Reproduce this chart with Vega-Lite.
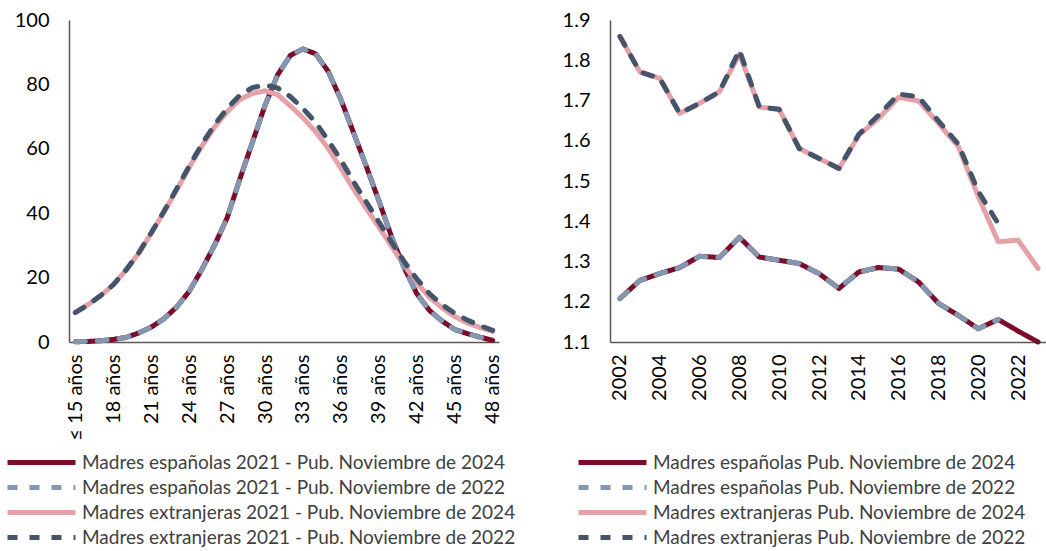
{
  "$schema": "https://vega.github.io/schema/vega-lite/v6.json",
  "padding": {"left": 14, "top": 10, "right": 0, "bottom": 0},
  "bounds": "flush",
  "spacing": 111,
  "config": {
    "font": "Lato",
    "view": {"stroke": null},
    "axis": {"domainColor": "#595959", "domainWidth": 1.5, "ticks": false, "grid": false, "labelColor": "#000000", "labelFontSize": 20, "labelFont": "Lato"},
    "legend": {"symbolType": "M-4.857,0L4.857,0", "symbolSize": 196, "symbolStrokeWidth": 5, "labelFontSize": 19, "labelColor": "#404040", "labelLimit": 600, "labelOffset": 31, "rowPadding": 4, "padding": 0, "labelFont": "Lato"}
  },
  "datasets": {
    "edades": [
      {"edad":15,"serie":"Madres españolas 2021 - Pub. Noviembre de 2024","valor":0.1},
      {"edad":16,"serie":"Madres españolas 2021 - Pub. Noviembre de 2024","valor":0.15},
      {"edad":17,"serie":"Madres españolas 2021 - Pub. Noviembre de 2024","valor":0.4},
      {"edad":18,"serie":"Madres españolas 2021 - Pub. Noviembre de 2024","valor":0.8},
      {"edad":19,"serie":"Madres españolas 2021 - Pub. Noviembre de 2024","valor":1.4},
      {"edad":20,"serie":"Madres españolas 2021 - Pub. Noviembre de 2024","valor":2.8},
      {"edad":21,"serie":"Madres españolas 2021 - Pub. Noviembre de 2024","valor":4.6},
      {"edad":22,"serie":"Madres españolas 2021 - Pub. Noviembre de 2024","valor":7.2},
      {"edad":23,"serie":"Madres españolas 2021 - Pub. Noviembre de 2024","valor":10.8},
      {"edad":24,"serie":"Madres españolas 2021 - Pub. Noviembre de 2024","valor":15.7},
      {"edad":25,"serie":"Madres españolas 2021 - Pub. Noviembre de 2024","valor":22.5},
      {"edad":26,"serie":"Madres españolas 2021 - Pub. Noviembre de 2024","valor":30},
      {"edad":27,"serie":"Madres españolas 2021 - Pub. Noviembre de 2024","valor":38.5},
      {"edad":28,"serie":"Madres españolas 2021 - Pub. Noviembre de 2024","valor":50.5},
      {"edad":29,"serie":"Madres españolas 2021 - Pub. Noviembre de 2024","valor":62},
      {"edad":30,"serie":"Madres españolas 2021 - Pub. Noviembre de 2024","valor":73.5},
      {"edad":31,"serie":"Madres españolas 2021 - Pub. Noviembre de 2024","valor":83},
      {"edad":32,"serie":"Madres españolas 2021 - Pub. Noviembre de 2024","valor":89},
      {"edad":33,"serie":"Madres españolas 2021 - Pub. Noviembre de 2024","valor":91},
      {"edad":34,"serie":"Madres españolas 2021 - Pub. Noviembre de 2024","valor":89.5},
      {"edad":35,"serie":"Madres españolas 2021 - Pub. Noviembre de 2024","valor":84},
      {"edad":36,"serie":"Madres españolas 2021 - Pub. Noviembre de 2024","valor":75.3},
      {"edad":37,"serie":"Madres españolas 2021 - Pub. Noviembre de 2024","valor":65},
      {"edad":38,"serie":"Madres españolas 2021 - Pub. Noviembre de 2024","valor":54.6},
      {"edad":39,"serie":"Madres españolas 2021 - Pub. Noviembre de 2024","valor":43.9},
      {"edad":40,"serie":"Madres españolas 2021 - Pub. Noviembre de 2024","valor":32.7},
      {"edad":41,"serie":"Madres españolas 2021 - Pub. Noviembre de 2024","valor":23.1},
      {"edad":42,"serie":"Madres españolas 2021 - Pub. Noviembre de 2024","valor":15},
      {"edad":43,"serie":"Madres españolas 2021 - Pub. Noviembre de 2024","valor":9.8},
      {"edad":44,"serie":"Madres españolas 2021 - Pub. Noviembre de 2024","valor":6.5},
      {"edad":45,"serie":"Madres españolas 2021 - Pub. Noviembre de 2024","valor":3.9},
      {"edad":46,"serie":"Madres españolas 2021 - Pub. Noviembre de 2024","valor":2.6},
      {"edad":47,"serie":"Madres españolas 2021 - Pub. Noviembre de 2024","valor":1.5},
      {"edad":48,"serie":"Madres españolas 2021 - Pub. Noviembre de 2024","valor":0.5},
      {"edad":15,"serie":"Madres extranjeras 2021 - Pub. Noviembre de 2024","valor":9.3},
      {"edad":16,"serie":"Madres extranjeras 2021 - Pub. Noviembre de 2024","valor":11.6},
      {"edad":17,"serie":"Madres extranjeras 2021 - Pub. Noviembre de 2024","valor":14.4},
      {"edad":18,"serie":"Madres extranjeras 2021 - Pub. Noviembre de 2024","valor":17.7},
      {"edad":19,"serie":"Madres extranjeras 2021 - Pub. Noviembre de 2024","valor":22.3},
      {"edad":20,"serie":"Madres extranjeras 2021 - Pub. Noviembre de 2024","valor":27.5},
      {"edad":21,"serie":"Madres extranjeras 2021 - Pub. Noviembre de 2024","valor":33.8},
      {"edad":22,"serie":"Madres extranjeras 2021 - Pub. Noviembre de 2024","valor":40.3},
      {"edad":23,"serie":"Madres extranjeras 2021 - Pub. Noviembre de 2024","valor":47.1},
      {"edad":24,"serie":"Madres extranjeras 2021 - Pub. Noviembre de 2024","valor":54.2},
      {"edad":25,"serie":"Madres extranjeras 2021 - Pub. Noviembre de 2024","valor":60.8},
      {"edad":26,"serie":"Madres extranjeras 2021 - Pub. Noviembre de 2024","valor":66.7},
      {"edad":27,"serie":"Madres extranjeras 2021 - Pub. Noviembre de 2024","valor":71.5},
      {"edad":28,"serie":"Madres extranjeras 2021 - Pub. Noviembre de 2024","valor":75.3},
      {"edad":29,"serie":"Madres extranjeras 2021 - Pub. Noviembre de 2024","valor":77.2},
      {"edad":30,"serie":"Madres extranjeras 2021 - Pub. Noviembre de 2024","valor":78},
      {"edad":31,"serie":"Madres extranjeras 2021 - Pub. Noviembre de 2024","valor":76.8},
      {"edad":32,"serie":"Madres extranjeras 2021 - Pub. Noviembre de 2024","valor":73.3},
      {"edad":33,"serie":"Madres extranjeras 2021 - Pub. Noviembre de 2024","valor":69.6},
      {"edad":34,"serie":"Madres extranjeras 2021 - Pub. Noviembre de 2024","valor":65.3},
      {"edad":35,"serie":"Madres extranjeras 2021 - Pub. Noviembre de 2024","valor":60.1},
      {"edad":36,"serie":"Madres extranjeras 2021 - Pub. Noviembre de 2024","valor":53.9},
      {"edad":37,"serie":"Madres extranjeras 2021 - Pub. Noviembre de 2024","valor":47.5},
      {"edad":38,"serie":"Madres extranjeras 2021 - Pub. Noviembre de 2024","valor":41.5},
      {"edad":39,"serie":"Madres extranjeras 2021 - Pub. Noviembre de 2024","valor":35.7},
      {"edad":40,"serie":"Madres extranjeras 2021 - Pub. Noviembre de 2024","valor":29.7},
      {"edad":41,"serie":"Madres extranjeras 2021 - Pub. Noviembre de 2024","valor":23.8},
      {"edad":42,"serie":"Madres extranjeras 2021 - Pub. Noviembre de 2024","valor":18.4},
      {"edad":43,"serie":"Madres extranjeras 2021 - Pub. Noviembre de 2024","valor":13.9},
      {"edad":44,"serie":"Madres extranjeras 2021 - Pub. Noviembre de 2024","valor":10.6},
      {"edad":45,"serie":"Madres extranjeras 2021 - Pub. Noviembre de 2024","valor":7.9},
      {"edad":46,"serie":"Madres extranjeras 2021 - Pub. Noviembre de 2024","valor":5.9},
      {"edad":47,"serie":"Madres extranjeras 2021 - Pub. Noviembre de 2024","valor":4.5},
      {"edad":48,"serie":"Madres extranjeras 2021 - Pub. Noviembre de 2024","valor":3.3},
      {"edad":15,"serie":"Madres españolas 2021 - Pub. Noviembre de 2022","valor":0.1},
      {"edad":16,"serie":"Madres españolas 2021 - Pub. Noviembre de 2022","valor":0.15},
      {"edad":17,"serie":"Madres españolas 2021 - Pub. Noviembre de 2022","valor":0.4},
      {"edad":18,"serie":"Madres españolas 2021 - Pub. Noviembre de 2022","valor":0.8},
      {"edad":19,"serie":"Madres españolas 2021 - Pub. Noviembre de 2022","valor":1.4},
      {"edad":20,"serie":"Madres españolas 2021 - Pub. Noviembre de 2022","valor":2.8},
      {"edad":21,"serie":"Madres españolas 2021 - Pub. Noviembre de 2022","valor":4.6},
      {"edad":22,"serie":"Madres españolas 2021 - Pub. Noviembre de 2022","valor":7.2},
      {"edad":23,"serie":"Madres españolas 2021 - Pub. Noviembre de 2022","valor":10.8},
      {"edad":24,"serie":"Madres españolas 2021 - Pub. Noviembre de 2022","valor":15.7},
      {"edad":25,"serie":"Madres españolas 2021 - Pub. Noviembre de 2022","valor":22.5},
      {"edad":26,"serie":"Madres españolas 2021 - Pub. Noviembre de 2022","valor":30},
      {"edad":27,"serie":"Madres españolas 2021 - Pub. Noviembre de 2022","valor":38.5},
      {"edad":28,"serie":"Madres españolas 2021 - Pub. Noviembre de 2022","valor":50.5},
      {"edad":29,"serie":"Madres españolas 2021 - Pub. Noviembre de 2022","valor":62},
      {"edad":30,"serie":"Madres españolas 2021 - Pub. Noviembre de 2022","valor":73.5},
      {"edad":31,"serie":"Madres españolas 2021 - Pub. Noviembre de 2022","valor":83},
      {"edad":32,"serie":"Madres españolas 2021 - Pub. Noviembre de 2022","valor":89},
      {"edad":33,"serie":"Madres españolas 2021 - Pub. Noviembre de 2022","valor":91},
      {"edad":34,"serie":"Madres españolas 2021 - Pub. Noviembre de 2022","valor":89.5},
      {"edad":35,"serie":"Madres españolas 2021 - Pub. Noviembre de 2022","valor":84},
      {"edad":36,"serie":"Madres españolas 2021 - Pub. Noviembre de 2022","valor":75.3},
      {"edad":37,"serie":"Madres españolas 2021 - Pub. Noviembre de 2022","valor":65},
      {"edad":38,"serie":"Madres españolas 2021 - Pub. Noviembre de 2022","valor":54.6},
      {"edad":39,"serie":"Madres españolas 2021 - Pub. Noviembre de 2022","valor":43.9},
      {"edad":40,"serie":"Madres españolas 2021 - Pub. Noviembre de 2022","valor":32.7},
      {"edad":41,"serie":"Madres españolas 2021 - Pub. Noviembre de 2022","valor":23.1},
      {"edad":42,"serie":"Madres españolas 2021 - Pub. Noviembre de 2022","valor":15},
      {"edad":43,"serie":"Madres españolas 2021 - Pub. Noviembre de 2022","valor":9.8},
      {"edad":44,"serie":"Madres españolas 2021 - Pub. Noviembre de 2022","valor":6.5},
      {"edad":45,"serie":"Madres españolas 2021 - Pub. Noviembre de 2022","valor":3.9},
      {"edad":46,"serie":"Madres españolas 2021 - Pub. Noviembre de 2022","valor":2.6},
      {"edad":47,"serie":"Madres españolas 2021 - Pub. Noviembre de 2022","valor":1.5},
      {"edad":48,"serie":"Madres españolas 2021 - Pub. Noviembre de 2022","valor":0.5},
      {"edad":15,"serie":"Madres extranjeras 2021 - Pub. Noviembre de 2022","valor":9.1},
      {"edad":16,"serie":"Madres extranjeras 2021 - Pub. Noviembre de 2022","valor":11.5},
      {"edad":17,"serie":"Madres extranjeras 2021 - Pub. Noviembre de 2022","valor":14.4},
      {"edad":18,"serie":"Madres extranjeras 2021 - Pub. Noviembre de 2022","valor":17.8},
      {"edad":19,"serie":"Madres extranjeras 2021 - Pub. Noviembre de 2022","valor":22.3},
      {"edad":20,"serie":"Madres extranjeras 2021 - Pub. Noviembre de 2022","valor":27.6},
      {"edad":21,"serie":"Madres extranjeras 2021 - Pub. Noviembre de 2022","valor":33.9},
      {"edad":22,"serie":"Madres extranjeras 2021 - Pub. Noviembre de 2022","valor":40.5},
      {"edad":23,"serie":"Madres extranjeras 2021 - Pub. Noviembre de 2022","valor":47.5},
      {"edad":24,"serie":"Madres extranjeras 2021 - Pub. Noviembre de 2022","valor":54.6},
      {"edad":25,"serie":"Madres extranjeras 2021 - Pub. Noviembre de 2022","valor":61.4},
      {"edad":26,"serie":"Madres extranjeras 2021 - Pub. Noviembre de 2022","valor":67.4},
      {"edad":27,"serie":"Madres extranjeras 2021 - Pub. Noviembre de 2022","valor":72.5},
      {"edad":28,"serie":"Madres extranjeras 2021 - Pub. Noviembre de 2022","valor":76.6},
      {"edad":29,"serie":"Madres extranjeras 2021 - Pub. Noviembre de 2022","valor":79},
      {"edad":30,"serie":"Madres extranjeras 2021 - Pub. Noviembre de 2022","valor":79.8},
      {"edad":31,"serie":"Madres extranjeras 2021 - Pub. Noviembre de 2022","valor":78.9},
      {"edad":32,"serie":"Madres extranjeras 2021 - Pub. Noviembre de 2022","valor":76.2},
      {"edad":33,"serie":"Madres extranjeras 2021 - Pub. Noviembre de 2022","valor":72.5},
      {"edad":34,"serie":"Madres extranjeras 2021 - Pub. Noviembre de 2022","valor":68.2},
      {"edad":35,"serie":"Madres extranjeras 2021 - Pub. Noviembre de 2022","valor":62.6},
      {"edad":36,"serie":"Madres extranjeras 2021 - Pub. Noviembre de 2022","valor":56.5},
      {"edad":37,"serie":"Madres extranjeras 2021 - Pub. Noviembre de 2022","valor":49.8},
      {"edad":38,"serie":"Madres extranjeras 2021 - Pub. Noviembre de 2022","valor":43.5},
      {"edad":39,"serie":"Madres extranjeras 2021 - Pub. Noviembre de 2022","valor":37.3},
      {"edad":40,"serie":"Madres extranjeras 2021 - Pub. Noviembre de 2022","valor":31},
      {"edad":41,"serie":"Madres extranjeras 2021 - Pub. Noviembre de 2022","valor":25},
      {"edad":42,"serie":"Madres extranjeras 2021 - Pub. Noviembre de 2022","valor":19.6},
      {"edad":43,"serie":"Madres extranjeras 2021 - Pub. Noviembre de 2022","valor":15},
      {"edad":44,"serie":"Madres extranjeras 2021 - Pub. Noviembre de 2022","valor":11.6},
      {"edad":45,"serie":"Madres extranjeras 2021 - Pub. Noviembre de 2022","valor":8.9},
      {"edad":46,"serie":"Madres extranjeras 2021 - Pub. Noviembre de 2022","valor":6.8},
      {"edad":47,"serie":"Madres extranjeras 2021 - Pub. Noviembre de 2022","valor":5.1},
      {"edad":48,"serie":"Madres extranjeras 2021 - Pub. Noviembre de 2022","valor":3.6}
    ],
    "anual": [
      {"anio":2002,"serie":"Madres españolas Pub. Noviembre de 2024","valor":1.208},
      {"anio":2003,"serie":"Madres españolas Pub. Noviembre de 2024","valor":1.253},
      {"anio":2004,"serie":"Madres españolas Pub. Noviembre de 2024","valor":1.27},
      {"anio":2005,"serie":"Madres españolas Pub. Noviembre de 2024","valor":1.285},
      {"anio":2006,"serie":"Madres españolas Pub. Noviembre de 2024","valor":1.313},
      {"anio":2007,"serie":"Madres españolas Pub. Noviembre de 2024","valor":1.31},
      {"anio":2008,"serie":"Madres españolas Pub. Noviembre de 2024","valor":1.36},
      {"anio":2009,"serie":"Madres españolas Pub. Noviembre de 2024","valor":1.311},
      {"anio":2010,"serie":"Madres españolas Pub. Noviembre de 2024","valor":1.303},
      {"anio":2011,"serie":"Madres españolas Pub. Noviembre de 2024","valor":1.295},
      {"anio":2012,"serie":"Madres españolas Pub. Noviembre de 2024","valor":1.27},
      {"anio":2013,"serie":"Madres españolas Pub. Noviembre de 2024","valor":1.233},
      {"anio":2014,"serie":"Madres españolas Pub. Noviembre de 2024","valor":1.274},
      {"anio":2015,"serie":"Madres españolas Pub. Noviembre de 2024","valor":1.285},
      {"anio":2016,"serie":"Madres españolas Pub. Noviembre de 2024","valor":1.281},
      {"anio":2017,"serie":"Madres españolas Pub. Noviembre de 2024","valor":1.249},
      {"anio":2018,"serie":"Madres españolas Pub. Noviembre de 2024","valor":1.196},
      {"anio":2019,"serie":"Madres españolas Pub. Noviembre de 2024","valor":1.166},
      {"anio":2020,"serie":"Madres españolas Pub. Noviembre de 2024","valor":1.133},
      {"anio":2021,"serie":"Madres españolas Pub. Noviembre de 2024","valor":1.156},
      {"anio":2022,"serie":"Madres españolas Pub. Noviembre de 2024","valor":1.127},
      {"anio":2023,"serie":"Madres españolas Pub. Noviembre de 2024","valor":1.1},
      {"anio":2002,"serie":"Madres extranjeras Pub. Noviembre de 2024","valor":1.859},
      {"anio":2003,"serie":"Madres extranjeras Pub. Noviembre de 2024","valor":1.771},
      {"anio":2004,"serie":"Madres extranjeras Pub. Noviembre de 2024","valor":1.755},
      {"anio":2005,"serie":"Madres extranjeras Pub. Noviembre de 2024","valor":1.668},
      {"anio":2006,"serie":"Madres extranjeras Pub. Noviembre de 2024","valor":1.693},
      {"anio":2007,"serie":"Madres extranjeras Pub. Noviembre de 2024","valor":1.722},
      {"anio":2008,"serie":"Madres extranjeras Pub. Noviembre de 2024","valor":1.815},
      {"anio":2009,"serie":"Madres extranjeras Pub. Noviembre de 2024","valor":1.684},
      {"anio":2010,"serie":"Madres extranjeras Pub. Noviembre de 2024","valor":1.678},
      {"anio":2011,"serie":"Madres extranjeras Pub. Noviembre de 2024","valor":1.581},
      {"anio":2012,"serie":"Madres extranjeras Pub. Noviembre de 2024","valor":1.556},
      {"anio":2013,"serie":"Madres extranjeras Pub. Noviembre de 2024","valor":1.531},
      {"anio":2014,"serie":"Madres extranjeras Pub. Noviembre de 2024","valor":1.614},
      {"anio":2015,"serie":"Madres extranjeras Pub. Noviembre de 2024","valor":1.656},
      {"anio":2016,"serie":"Madres extranjeras Pub. Noviembre de 2024","valor":1.708},
      {"anio":2017,"serie":"Madres extranjeras Pub. Noviembre de 2024","valor":1.699},
      {"anio":2018,"serie":"Madres extranjeras Pub. Noviembre de 2024","valor":1.643},
      {"anio":2019,"serie":"Madres extranjeras Pub. Noviembre de 2024","valor":1.585},
      {"anio":2020,"serie":"Madres extranjeras Pub. Noviembre de 2024","valor":1.461},
      {"anio":2021,"serie":"Madres extranjeras Pub. Noviembre de 2024","valor":1.349},
      {"anio":2022,"serie":"Madres extranjeras Pub. Noviembre de 2024","valor":1.353},
      {"anio":2023,"serie":"Madres extranjeras Pub. Noviembre de 2024","valor":1.283},
      {"anio":2002,"serie":"Madres españolas Pub. Noviembre de 2022","valor":1.208},
      {"anio":2003,"serie":"Madres españolas Pub. Noviembre de 2022","valor":1.253},
      {"anio":2004,"serie":"Madres españolas Pub. Noviembre de 2022","valor":1.27},
      {"anio":2005,"serie":"Madres españolas Pub. Noviembre de 2022","valor":1.285},
      {"anio":2006,"serie":"Madres españolas Pub. Noviembre de 2022","valor":1.313},
      {"anio":2007,"serie":"Madres españolas Pub. Noviembre de 2022","valor":1.31},
      {"anio":2008,"serie":"Madres españolas Pub. Noviembre de 2022","valor":1.36},
      {"anio":2009,"serie":"Madres españolas Pub. Noviembre de 2022","valor":1.311},
      {"anio":2010,"serie":"Madres españolas Pub. Noviembre de 2022","valor":1.303},
      {"anio":2011,"serie":"Madres españolas Pub. Noviembre de 2022","valor":1.295},
      {"anio":2012,"serie":"Madres españolas Pub. Noviembre de 2022","valor":1.27},
      {"anio":2013,"serie":"Madres españolas Pub. Noviembre de 2022","valor":1.233},
      {"anio":2014,"serie":"Madres españolas Pub. Noviembre de 2022","valor":1.274},
      {"anio":2015,"serie":"Madres españolas Pub. Noviembre de 2022","valor":1.285},
      {"anio":2016,"serie":"Madres españolas Pub. Noviembre de 2022","valor":1.281},
      {"anio":2017,"serie":"Madres españolas Pub. Noviembre de 2022","valor":1.249},
      {"anio":2018,"serie":"Madres españolas Pub. Noviembre de 2022","valor":1.196},
      {"anio":2019,"serie":"Madres españolas Pub. Noviembre de 2022","valor":1.166},
      {"anio":2020,"serie":"Madres españolas Pub. Noviembre de 2022","valor":1.133},
      {"anio":2021,"serie":"Madres españolas Pub. Noviembre de 2022","valor":1.156},
      {"anio":2002,"serie":"Madres extranjeras Pub. Noviembre de 2022","valor":1.859},
      {"anio":2003,"serie":"Madres extranjeras Pub. Noviembre de 2022","valor":1.771},
      {"anio":2004,"serie":"Madres extranjeras Pub. Noviembre de 2022","valor":1.755},
      {"anio":2005,"serie":"Madres extranjeras Pub. Noviembre de 2022","valor":1.668},
      {"anio":2006,"serie":"Madres extranjeras Pub. Noviembre de 2022","valor":1.693},
      {"anio":2007,"serie":"Madres extranjeras Pub. Noviembre de 2022","valor":1.722},
      {"anio":2008,"serie":"Madres extranjeras Pub. Noviembre de 2022","valor":1.825},
      {"anio":2009,"serie":"Madres extranjeras Pub. Noviembre de 2022","valor":1.684},
      {"anio":2010,"serie":"Madres extranjeras Pub. Noviembre de 2022","valor":1.678},
      {"anio":2011,"serie":"Madres extranjeras Pub. Noviembre de 2022","valor":1.581},
      {"anio":2012,"serie":"Madres extranjeras Pub. Noviembre de 2022","valor":1.556},
      {"anio":2013,"serie":"Madres extranjeras Pub. Noviembre de 2022","valor":1.531},
      {"anio":2014,"serie":"Madres extranjeras Pub. Noviembre de 2022","valor":1.616},
      {"anio":2015,"serie":"Madres extranjeras Pub. Noviembre de 2022","valor":1.664},
      {"anio":2016,"serie":"Madres extranjeras Pub. Noviembre de 2022","valor":1.716},
      {"anio":2017,"serie":"Madres extranjeras Pub. Noviembre de 2022","valor":1.709},
      {"anio":2018,"serie":"Madres extranjeras Pub. Noviembre de 2022","valor":1.649},
      {"anio":2019,"serie":"Madres extranjeras Pub. Noviembre de 2022","valor":1.591},
      {"anio":2020,"serie":"Madres extranjeras Pub. Noviembre de 2022","valor":1.474},
      {"anio":2021,"serie":"Madres extranjeras Pub. Noviembre de 2022","valor":1.394}
    ]
  },
  "hconcat": [
    {
      "width": 430,
      "height": 322,
      "data": {"name": "edades"},
      "mark": {"type": "line", "strokeWidth": 5, "strokeCap": "round", "strokeJoin": "round"},
      "encoding": {
        "x": {"field": "edad", "type": "ordinal", "axis": {"title": null, "values": [15,18,21,24,27,30,33,36,39,42,45,48], "labelExpr": "datum.value == 15 ? '≤ 15 años' : datum.value + ' años'", "labelAngle": -90, "labelPadding": 12}},
        "y": {"field": "valor", "type": "quantitative", "scale": {"domain": [0, 100]}, "axis": {"title": null, "values": [0,20,40,60,80,100], "labelPadding": 20}},
        "color": {
          "field": "serie", "type": "nominal",
          "scale": {"domain": ["Madres españolas 2021 - Pub. Noviembre de 2024","Madres españolas 2021 - Pub. Noviembre de 2022","Madres extranjeras 2021 - Pub. Noviembre de 2024","Madres extranjeras 2021 - Pub. Noviembre de 2022"], "range": ["#7B0C2A","#8497B0","#E6A0A7","#44546A"]},
          "legend": {"title": null, "orient": "none", "legendX": -37, "legendY": 433}
        },
        "strokeDash": {
          "field": "serie", "type": "nominal",
          "scale": {"domain": ["Madres españolas 2021 - Pub. Noviembre de 2024","Madres españolas 2021 - Pub. Noviembre de 2022","Madres extranjeras 2021 - Pub. Noviembre de 2024","Madres extranjeras 2021 - Pub. Noviembre de 2022"], "range": [[1,0],[10,12],[1,0],[10,12]]},
          "legend": {"title": null, "orient": "none", "legendX": -37, "legendY": 433}
        }
      }
    },
    {
      "width": 438,
      "height": 322,
      "data": {"name": "anual"},
      "mark": {"type": "line", "strokeWidth": 5, "strokeCap": "round", "strokeJoin": "round"},
      "encoding": {
        "x": {"field": "anio", "type": "ordinal", "axis": {"title": null, "values": [2002,2004,2006,2008,2010,2012,2014,2016,2018,2020,2022], "labelAngle": -90, "labelPadding": 12}},
        "y": {"field": "valor", "type": "quantitative", "scale": {"domain": [1.1, 1.9], "zero": false}, "axis": {"title": null, "values": [1.1,1.2,1.3,1.4,1.5,1.6,1.7,1.8,1.9], "format": ".1f", "labelPadding": 20}},
        "color": {
          "field": "serie", "type": "nominal",
          "scale": {"domain": ["Madres españolas Pub. Noviembre de 2024","Madres españolas Pub. Noviembre de 2022","Madres extranjeras Pub. Noviembre de 2024","Madres extranjeras Pub. Noviembre de 2022"], "range": ["#7B0C2A","#8497B0","#E6A0A7","#44546A"]},
          "legend": {"title": null, "orient": "none", "legendX": -7, "legendY": 433}
        },
        "strokeDash": {
          "field": "serie", "type": "nominal",
          "scale": {"domain": ["Madres españolas Pub. Noviembre de 2024","Madres españolas Pub. Noviembre de 2022","Madres extranjeras Pub. Noviembre de 2024","Madres extranjeras Pub. Noviembre de 2022"], "range": [[1,0],[10,12],[1,0],[10,12]]},
          "legend": {"title": null, "orient": "none", "legendX": -7, "legendY": 433}
        }
      }
    }
  ],
  "resolve": {
    "scale": {"color": "independent", "strokeDash": "independent"},
    "legend": {"color": "independent", "strokeDash": "independent"}
  }
}
